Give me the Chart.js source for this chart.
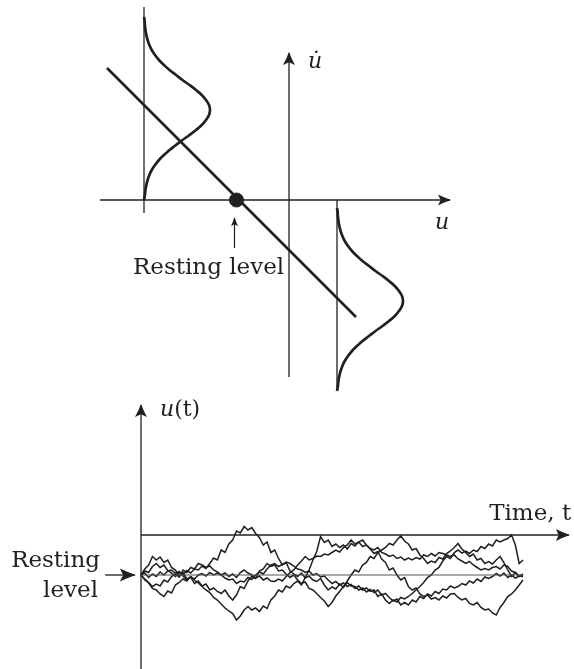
<!DOCTYPE html>
<html>
<head>
<meta charset="utf-8">
<script src="https://cdn.jsdelivr.net/npm/chart.js@4.4.0/dist/chart.umd.min.js"></script>
<style>
  html, body { margin: 0; padding: 0; background: #fff; }
  body { width: 574px; height: 669px; position: relative; overflow: hidden; }
  canvas { position: absolute; }
  #phase { left: 89px; top: 0px; }
  #trace { left: 0px; top: 390px; }
</style>
</head>
<body>
<canvas id="phase" width="400" height="400"></canvas>
<canvas id="trace" width="574" height="279"></canvas>
<script>
const INK = '#231f20';

// ---- phase plane (u across, du/dt up) ----
const uAxis = [[-3.78, 0], [3.22, 0]];
const uDotAxis = [[0, -3.54], [0, 2.94]];
const driftLine = [[-3.64, 2.64], [1.34, -2.34]];
const restingPoint = [[-1.05, 0]];
const restPointerTop = [[-1.09, -0.96], [-1.09, -0.36]];
const leftDensityBase = [[-2.9, -0.26], [-2.9, 3.86]];
const rightDensityBase = [[0.96, 0], [0.96, -3.78]];
const leftDensityCentre = [-2.9, 1.8];
const rightDensityCentre = [0.96, -2.02];
const densityOffsets = [-1.8, -1.7, -1.6, -1.5, -1.4, -1.3, -1.2, -1.1, -1.0, -0.9, -0.8, -0.7, -0.6, -0.5, -0.4, -0.3, -0.2, -0.1,
  0, 0.1, 0.2, 0.3, 0.4, 0.5, 0.6, 0.7, 0.8, 0.9, 1.0, 1.1, 1.2, 1.3, 1.4, 1.5, 1.6, 1.7, 1.8, 1.86];
const densityHeights = [0, 0.018, 0.029, 0.047, 0.072, 0.107, 0.155, 0.22, 0.30, 0.40, 0.51, 0.64, 0.77, 0.91, 1.04, 1.155, 1.24, 1.30,
  1.32, 1.30, 1.24, 1.155, 1.04, 0.91, 0.77, 0.64, 0.51, 0.40, 0.30, 0.22, 0.155, 0.107, 0.072, 0.047, 0.029, 0.018, 0.011, 0];

// ---- time course ----
const timeSteps = Array.from({ length: 101 }, (_, i) => i);
const path1 = [0, 0.08, 0.05, 0.17, 0.23, 0.15, 0.2, 0.09, 0.04, -0.03, 0.05,
  0.0, 0.09, 0.04, 0.12, 0.1, 0.18, 0.13, 0.23, 0.34, 0.3,
  0.5, 0.45, 0.62, 0.7, 0.88, 0.84, 0.97, 0.9, 0.95, 0.83,
  0.75, 0.6, 0.66, 0.45, 0.5, 0.33, 0.2, 0.25, 0.08, 0.02,
  -0.03, 0.04, -0.06, -0.02, -0.1, -0.13, -0.07, -0.2, -0.3, -0.24,
  -0.28, -0.18, -0.25, -0.15, -0.22, -0.23, -0.3, -0.26, -0.34, -0.29,
  -0.35, -0.3, -0.4, -0.37, -0.45, -0.52, -0.48, -0.6, -0.55, -0.6,
  -0.5, -0.54, -0.43, -0.47, -0.38, -0.42, -0.33, -0.37, -0.28, -0.3,
  -0.22, -0.26, -0.23, -0.17, -0.2, -0.12, -0.16, -0.08, -0.13, -0.04,
  -0.07, -0.03, 0.03, -0.02, 0.04, -0.05, 0.0, -0.06, -0.02, -0.03];
const path2 = [0, -0.1, -0.16, -0.27, -0.3, -0.38, -0.43, -0.32, -0.36, -0.2, -0.15,
  -0.08, -0.12, -0.03, -0.1, -0.16, -0.23, -0.3, -0.35, -0.45, -0.5,
  -0.58, -0.66, -0.72, -0.77, -0.9, -0.82, -0.7, -0.63, -0.7, -0.66,
  -0.73, -0.62, -0.67, -0.5, -0.42, -0.3, -0.34, -0.22, -0.26, -0.17,
  -0.12, -0.2, -0.05, 0.1, 0.3, 0.47, 0.77, 0.65, 0.7, 0.57,
  0.62, 0.55, 0.6, 0.52, 0.63, 0.58, 0.66, 0.7, 0.6, 0.52,
  0.43, 0.47, 0.32, 0.25, 0.1, 0.14, 0.0, -0.1, -0.05, -0.23,
  -0.3, -0.26, -0.38, -0.43, -0.4, -0.48, -0.45, -0.5, -0.42, -0.46,
  -0.38, -0.37, -0.45, -0.5, -0.47, -0.57, -0.6, -0.55, -0.65, -0.7,
  -0.68, -0.76, -0.8, -0.65, -0.55, -0.43, -0.38, -0.3, -0.2, -0.1];
const path3 = [0, 0.12, 0.2, 0.37, 0.3, 0.36, 0.25, 0.3, 0.15, 0.1, -0.03,
  0.05, -0.08, -0.04, -0.17, -0.12, -0.22, -0.18, -0.3, -0.26, -0.33,
  -0.37, -0.3, -0.42, -0.5, -0.4, -0.23, -0.27, -0.12, -0.03, -0.07,
  0.08, 0.12, 0.23, 0.17, 0.2, 0.08, 0.1, 0.02, -0.05, 0.0,
  -0.1, -0.17, -0.14, -0.27, -0.3, -0.37, -0.45, -0.52, -0.63, -0.55,
  -0.42, -0.33, -0.23, -0.12, 0.0, 0.1, 0.06, 0.2, 0.25, 0.37,
  0.33, 0.45, 0.5, 0.55, 0.63, 0.6, 0.7, 0.78, 0.68, 0.62,
  0.5, 0.53, 0.4, 0.33, 0.23, 0.28, 0.25, 0.35, 0.32, 0.43,
  0.48, 0.55, 0.63, 0.52, 0.45, 0.37, 0.42, 0.3, 0.33, 0.23,
  0.27, 0.22, 0.3, 0.37, 0.25, 0.1, -0.03, 0.05, -0.02, 0.0];
const path4 = [0, 0.04, -0.05, 0.02, -0.03, 0.06, 0.0, 0.08, 0.1, 0.03, 0.07,
  -0.02, -0.1, -0.04, -0.08, 0.0, 0.03, -0.02, 0.05, 0.0, 0.04,
  0.0, -0.06, -0.1, -0.08, -0.17, -0.12, -0.14, -0.05, -0.09, 0.0,
  0.06, 0.02, 0.12, 0.2, 0.23, 0.17, 0.21, 0.26, 0.23, 0.18,
  0.12, 0.1, 0.05, 0.08, 0.0, 0.03, -0.04, -0.02, -0.1, -0.17,
  -0.13, -0.2, -0.16, -0.23, -0.19, -0.27, -0.22, -0.3, -0.26, -0.33,
  -0.3, -0.43, -0.38, -0.5, -0.57, -0.5, -0.54, -0.45, -0.48, -0.43,
  -0.37, -0.3, -0.23, -0.15, -0.05, 0.0, 0.1, 0.15, 0.28, 0.37,
  0.33, 0.45, 0.5, 0.44, 0.48, 0.43, 0.5, 0.47, 0.57, 0.53,
  0.62, 0.58, 0.7, 0.66, 0.7, 0.73, 0.8, 0.6, 0.23, 0.3];
const path5 = [0, -0.08, -0.15, -0.23, -0.18, -0.22, -0.1, -0.14, -0.03, 0.02, -0.04,
  0.1, 0.05, 0.15, 0.12, 0.23, 0.2, 0.15, 0.18, 0.1, 0.06,
  0.0, 0.04, -0.03, 0.02, -0.05, 0.05, 0.1, 0.04, 0.0, -0.06,
  -0.02, -0.1, -0.06, -0.12, -0.13, -0.08, -0.12, -0.03, 0.05, 0.1,
  0.2, 0.28, 0.37, 0.3, 0.33, 0.38, 0.37, 0.42, 0.4, 0.45,
  0.5, 0.46, 0.55, 0.6, 0.7, 0.62, 0.66, 0.57, 0.6, 0.53,
  0.5, 0.55, 0.45, 0.42, 0.37, 0.4, 0.33, 0.36, 0.3, 0.34,
  0.3, 0.35, 0.32, 0.4, 0.37, 0.43, 0.38, 0.45, 0.43, 0.4,
  0.37, 0.4, 0.32, 0.28, 0.23, 0.27, 0.2, 0.15, 0.1, 0.13,
  0.1, 0.15, 0.17, 0.12, 0.2, 0.17, 0.08, 0.05, -0.03, 0.02];
const timeAxis = [[0, 0.8], [112, 0.8]];
const traceAxis = [[0, -1.88], [0, 3.4]];
const restLine = [[0, 0], [100, 0]];
const restPointer = [[-9.4, 0], [-1.6, 0]];

const pts = a => a.map(([x, y]) => ({ x, y }));

function seg(data, width, extra) {
  return Object.assign({
    data: pts(data), showLine: true, borderColor: INK, borderWidth: width,
    pointRadius: 0, fill: false, tension: 0
  }, extra || {});
}

function density(centre) {
  return densityOffsets.map((d, i) => [centre[0] + densityHeights[i], centre[1] + d]);
}

function drawHead(ctx, x1, y1, x2, y2, len, w) {
  const ang = Math.atan2(y2 - y1, x2 - x1);
  ctx.save();
  ctx.translate(x2, y2);
  ctx.rotate(ang);
  ctx.fillStyle = INK;
  ctx.beginPath();
  ctx.moveTo(1, 0);
  ctx.quadraticCurveTo(-len * 0.5, -w * 0.22, -len, -w / 2);
  ctx.lineTo(-len * 0.78, 0);
  ctx.lineTo(-len, w / 2);
  ctx.quadraticCurveTo(-len * 0.5, w * 0.22, 1, 0);
  ctx.fill();
  ctx.restore();
}

function decorations(labels) {
  return {
    id: 'decorations',
    afterDatasetsDraw(chart) {
      const ctx = chart.ctx;
      const xs = chart.scales.x, ys = chart.scales.y;
      chart.data.datasets.forEach(ds => {
        if (!ds.arrowHead) return;
        const n = ds.data.length;
        const a = ds.data[n - 2], b = ds.data[n - 1];
        drawHead(ctx, xs.getPixelForValue(a.x), ys.getPixelForValue(a.y),
          xs.getPixelForValue(b.x), ys.getPixelForValue(b.y), ds.arrowHead[0], ds.arrowHead[1]);
      });
      ctx.save();
      ctx.fillStyle = INK;
      ctx.textBaseline = 'alphabetic';
      labels.forEach(l => {
        let x = xs.getPixelForValue(l.x);
        const y = ys.getPixelForValue(l.y);
        const fonts = l.parts.map(p => (p.italic ? 'italic ' : '') + l.size + 'px "DejaVu Serif"');
        const widths = l.parts.map((p, i) => { ctx.font = fonts[i]; return ctx.measureText(p.text).width; });
        const total = widths.reduce((s, w) => s + w, 0);
        if (l.align === 'right') x -= total;
        if (l.align === 'center') x -= total / 2;
        l.parts.forEach((p, i) => {
          ctx.font = fonts[i];
          ctx.textAlign = 'left';
          ctx.fillText(p.text, x, y);
          x += widths[i];
        });
      });
      ctx.restore();
    }
  };
}

const baseOptions = (xmin, xmax, ymin, ymax) => ({
  responsive: false,
  animation: false,
  layout: { padding: 0, autoPadding: false },
  scales: {
    x: { type: 'linear', min: xmin, max: xmax, display: false },
    y: { type: 'linear', min: ymin, max: ymax, display: false }
  },
  plugins: { legend: { display: false }, tooltip: { enabled: false } },
  elements: { line: { capBezierPoints: true } }
});

new Chart(document.getElementById('phase'), {
  type: 'scatter',
  data: {
    datasets: [
      seg(uAxis, 1.3, { arrowHead: [12, 11] }),
      seg(uDotAxis, 1.3, { arrowHead: [12, 12] }),
      seg(leftDensityBase, 1.3),
      seg(rightDensityBase, 1.3),
      seg(restPointerTop, 1.2, { arrowHead: [8, 7] }),
      seg(driftLine, 2.7),
      seg(density(leftDensityCentre), 2.7, { tension: 0.4 }),
      seg(density(rightDensityCentre), 2.7, { tension: 0.4 }),
      { data: pts(restingPoint), pointRadius: 7, pointBackgroundColor: INK, pointBorderColor: INK, showLine: false }
    ]
  },
  options: baseOptions(-4, 4, -4, 4),
  plugins: [decorations([
    { x: 0.38, y: 2.64, size: 22, parts: [{ text: 'u\u0307', italic: true }] },
    { x: 2.92, y: -0.58, size: 22, parts: [{ text: 'u', italic: true }] },
    { x: -3.12, y: -1.48, size: 23, parts: [{ text: 'Resting level' }] }
  ])]
});

const traceData = p => p.map((v, i) => [timeSteps[i], v]);

new Chart(document.getElementById('trace'), {
  type: 'scatter',
  data: {
    datasets: [
      seg(traceAxis, 1.3, { arrowHead: [12, 12] }),
      seg(timeAxis, 1.3, { arrowHead: [13, 12] }),
      seg(restLine, 1.1, { borderColor: '#555' }),
      seg(restPointer, 1.3, { arrowHead: [15, 13] }),
      seg(traceData(path1), 1.5),
      seg(traceData(path2), 1.5),
      seg(traceData(path3), 1.5),
      seg(traceData(path4), 1.5),
      seg(traceData(path5), 1.5)
    ]
  },
  options: baseOptions(-36.91, 113.35, -1.88, 3.7),
  plugins: [decorations([
    { x: 4.97, y: 3.18, size: 22, parts: [{ text: 'u', italic: true }, { text: '(t)' }] },
    { x: 112.6, y: 1.1, size: 23, align: 'right', parts: [{ text: 'Time, t' }] },
    { x: -10.73, y: 0.16, size: 23, align: 'right', parts: [{ text: 'Resting' }] },
    { x: -11.26, y: -0.44, size: 23, align: 'right', parts: [{ text: 'level' }] }
  ])]
});
</script>
</body>
</html>
